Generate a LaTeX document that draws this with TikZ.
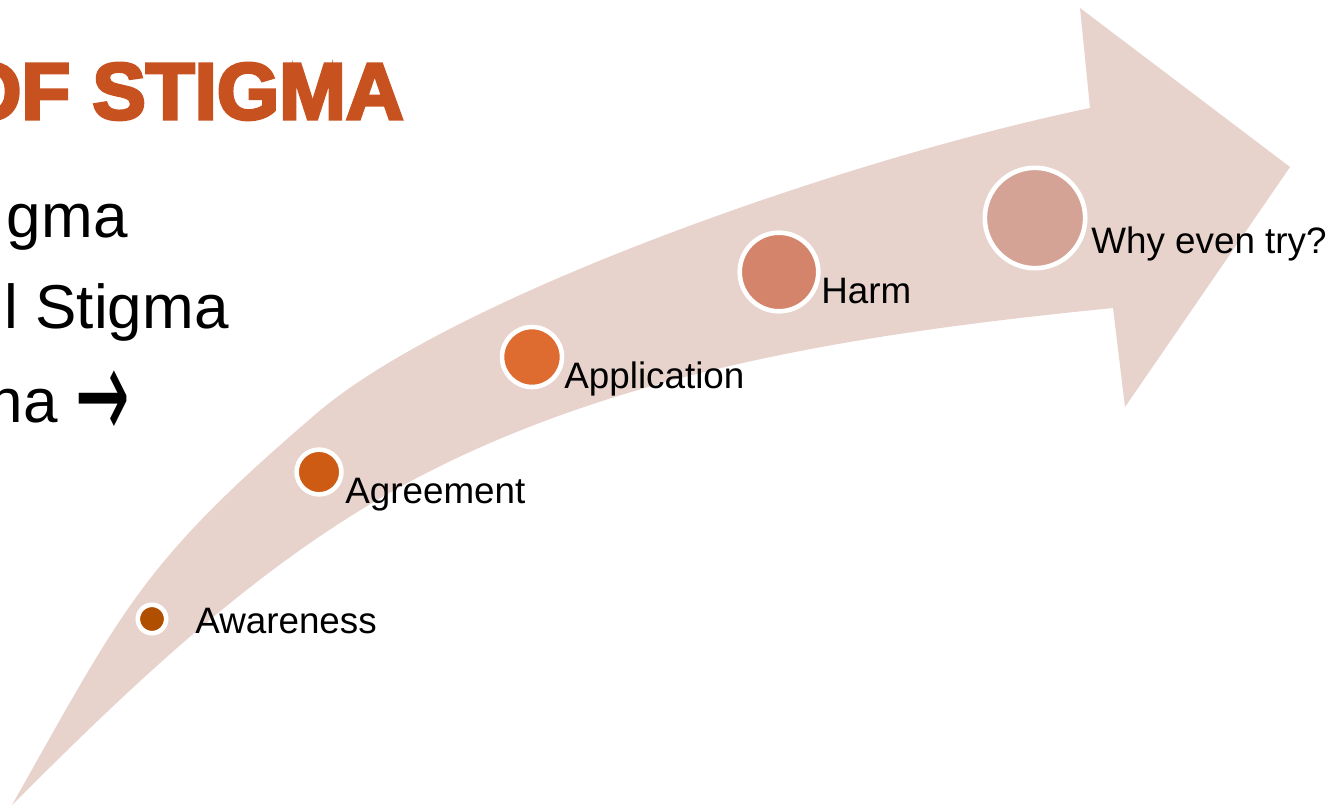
\documentclass[tikz,border=0pt]{standalone}
\usepackage{fontspec}
\setmainfont{Liberation Sans}
\newfontfamily\titlefont[FakeBold=4]{Liberation Sans Bold}
\newfontfamily\symfont{DejaVu Sans}
\definecolor{arrowfill}{HTML}{E8D2CC}
\definecolor{titlecol}{HTML}{C75220}
\definecolor{cA}{HTML}{B14F00}
\definecolor{cB}{HTML}{CD5B13}
\definecolor{cC}{HTML}{DE6B30}
\definecolor{cD}{HTML}{D4846A}
\definecolor{cE}{HTML}{D4A395}
\tikzset{
  dot/.style={circle, draw=white, line width=2.3pt, inner sep=0pt},
  lbl/.style={anchor=base west, inner sep=0pt, font=\fontsize{18.4}{18.4}\selectfont},
  bigtxt/.style={anchor=base east, inner sep=0pt, font=\fontsize{31}{31}\selectfont},
}
\begin{document}
\begin{tikzpicture}[x=0.5pt, y=-0.5pt]
\useasboundingbox (0,0) rectangle (1333,808);
\clip (0,0) rectangle (1333,808);
% big curved arrow
\fill[arrowfill]
  (12,805) .. controls (125,605) and (142,563) .. (317,413)
  .. controls (454,296) and (845,159) .. (1090,108)
  -- (1080,8) -- (1290,167) -- (1125,407) -- (1113,308)
  .. controls (869,332.4) and (614.6,369) .. (400,487)
  .. controls (254,567.5) and (130,687) .. (12,805)
  -- cycle;
% title and left text (cut off at the left edge)
\node[anchor=base east, inner sep=0pt, text=titlecol, font=\titlefont\fontsize{40}{40}\selectfont] (title) at (404,119) {OF STIGMA};
\node[bigtxt] (l1) at (128,237) {gma};
\node[bigtxt] (l2) at (229,328) {l Stigma};
\node[bigtxt] (l3) at (130,422) {na \raisebox{-8.5pt}{\symfont\scalebox{1.05}[2.1]{→}}};
% circles
\node[dot, fill=cA, minimum size=14.2pt] (aw) at (152,619) {};
\node[dot, fill=cB, minimum size=22.4pt] (ag) at (319,472) {};
\node[dot, fill=cC, minimum size=30pt] (ap) at (532,357) {};
\node[dot, fill=cD, minimum size=39.3pt] (ha) at (779,272) {};
\node[dot, fill=cE, minimum size=50.2pt] (wh) at (1035,218) {};
% labels
\node[lbl] (tAw) at (195,633) {Awareness};
\node[lbl] (tAg) at (345,503) {Agreement};
\node[lbl] (tAp) at (564,388) {Application};
\node[lbl] (tHa) at (821,303) {Harm};
\node[lbl] (tWh) at (1091,253) {Why even try?};
\end{tikzpicture}
\end{document}
